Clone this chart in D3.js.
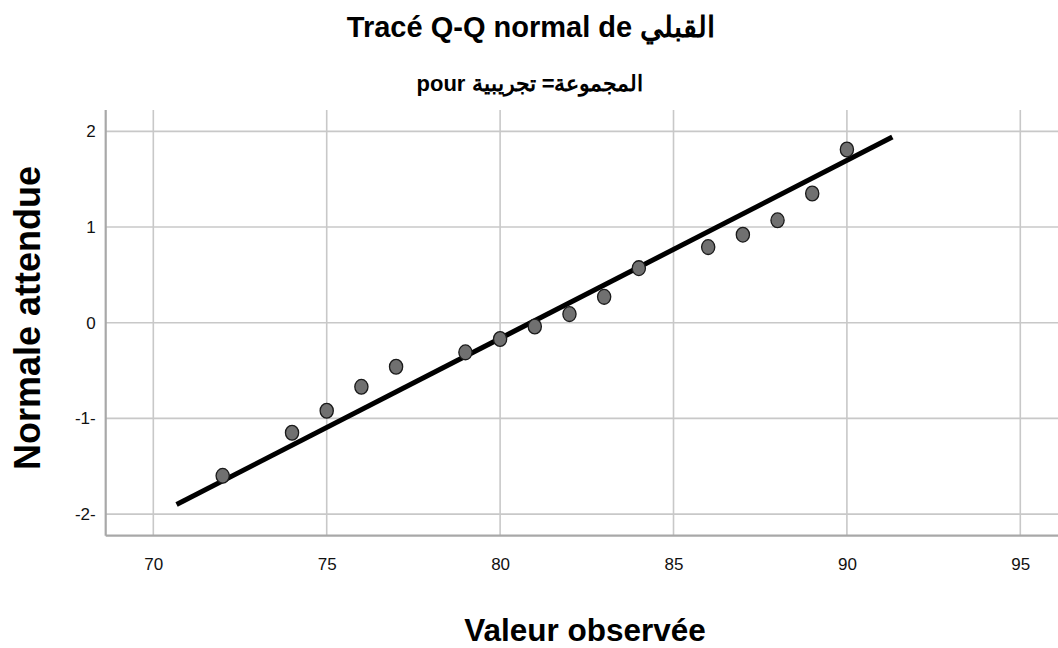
<!DOCTYPE html>
<html>
<head>
<meta charset="utf-8">
<script src="https://cdn.jsdelivr.net/npm/d3@7"></script>
<style>
  body { margin: 0; background: #fff; }
  svg text { font-family: "Liberation Sans", Arial, sans-serif; }
</style>
</head>
<body>
<div id="chart"></div>
<script>
// Observed values and their expected normal scores.
var observed = [72, 74, 75, 76, 77, 79, 80, 81, 82, 83, 84, 86, 87, 88, 89, 90];
var expected = [-1.60, -1.15, -0.92, -0.67, -0.46, -0.31, -0.17, -0.04,
                0.09, 0.27, 0.57, 0.79, 0.92, 1.07, 1.35, 1.81];
// Reference line end points (observed, expected).
var lineX = [70.67, 91.31];
var lineY = [-1.90, 1.94];
var xTicks = [70, 75, 80, 85, 90, 95];
var yTicks = [-2, -1, 0, 1, 2];
var yTickLabels = ['-2-', '-1-', '0', '1', '2'];

(function() {
  var width = 1058,
      height = 648,
      left = 105.7,
      right = 1058,
      top = 110,
      bottom = 535.7;

  var svg = d3.select('#chart').append('svg')
      .attr('width', width)
      .attr('height', height);

  var x = d3.scaleLinear().domain([68.627, 96.087]).range([left, right]);
  var y = d3.scaleLinear().domain([-2.226, 2.223]).range([bottom, top]);

  // Grid lines
  svg.append('g').selectAll('line').data(xTicks)
      .enter().append('line')
          .attr('x1', function(d) { return x(d); })
          .attr('x2', function(d) { return x(d); })
          .attr('y1', top)
          .attr('y2', bottom)
          .attr('stroke', '#c8c8c8')
          .attr('stroke-width', 1.6);

  svg.append('g').selectAll('line').data(yTicks)
      .enter().append('line')
          .attr('x1', left)
          .attr('x2', right)
          .attr('y1', function(d) { return y(d); })
          .attr('y2', function(d) { return y(d); })
          .attr('stroke', '#c8c8c8')
          .attr('stroke-width', 1.6);

  // Axes, drawn with d3 axis generators but no ticks or domain path
  var xAxis = svg.append('g')
      .attr('transform', 'translate(0,' + bottom + ')')
      .call(d3.axisBottom(x).tickValues(xTicks).tickSize(0).tickPadding(22));
  xAxis.select('.domain').remove();
  xAxis.selectAll('text')
      .attr('font-size', 17)
      .attr('fill', '#111')
      .style('font-family', '"Liberation Sans", Arial, sans-serif');

  var yAxis = svg.append('g')
      .attr('transform', 'translate(' + left + ',0)')
      .call(d3.axisLeft(y).tickValues(yTicks).tickSize(0).tickPadding(10)
          .tickFormat(function(d, i) { return yTickLabels[i]; }));
  yAxis.select('.domain').remove();
  yAxis.selectAll('text')
      .attr('font-size', 17)
      .attr('fill', '#111')
      .style('font-family', '"Liberation Sans", Arial, sans-serif');

  // Frame lines (left and bottom)
  svg.append('line')
      .attr('x1', left).attr('x2', left)
      .attr('y1', top).attr('y2', bottom)
      .attr('stroke', '#a8a8a8').attr('stroke-width', 2.2);
  svg.append('line')
      .attr('x1', left).attr('x2', right)
      .attr('y1', bottom).attr('y2', bottom)
      .attr('stroke', '#a8a8a8').attr('stroke-width', 2.2);

  // Reference line
  svg.append('line')
      .attr('x1', x(lineX[0])).attr('y1', y(lineY[0]))
      .attr('x2', x(lineX[1])).attr('y2', y(lineY[1]))
      .attr('stroke', '#000')
      .attr('stroke-width', 5);

  // Points
  svg.append('g').selectAll('ellipse').data(d3.range(observed.length))
      .enter().append('ellipse')
          .attr('cx', function(i) { return x(observed[i]); })
          .attr('cy', function(i) { return y(expected[i]); })
          .attr('rx', 6.6)
          .attr('ry', 7.4)
          .attr('fill', '#707070')
          .attr('stroke', '#1a1a1a')
          .attr('stroke-width', 1.3);

  // Titles
  svg.append('text')
      .attr('x', 531).attr('y', 37)
      .attr('text-anchor', 'middle')
      .attr('font-size', 29)
      .attr('font-weight', 'bold')
      .text('Tracé Q-Q normal de القبلي');

  svg.append('text')
      .attr('x', 530).attr('y', 91)
      .attr('text-anchor', 'middle')
      .attr('font-size', 22)
      .attr('font-weight', 'bold')
      .text('pour المجموعة= تجريبية');

  svg.append('text')
      .attr('x', 585).attr('y', 641)
      .attr('text-anchor', 'middle')
      .attr('font-size', 31.5)
      .attr('font-weight', 'bold')
      .text('Valeur observée');

  svg.append('text')
      .attr('transform', 'translate(40,318) rotate(-90)')
      .attr('text-anchor', 'middle')
      .attr('font-size', 36)
      .attr('font-weight', 'bold')
      .text('Normale attendue');
})();
</script>
</body>
</html>
